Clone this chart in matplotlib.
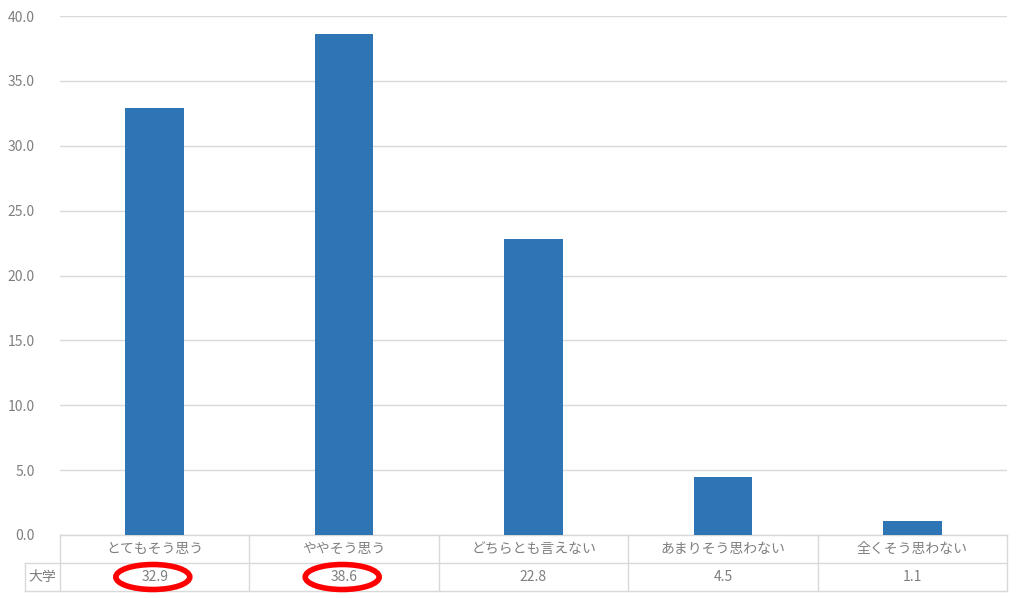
import matplotlib.pyplot as plt
from matplotlib.patches import Ellipse
from matplotlib.transforms import blended_transform_factory
import numpy as np

plt.rcParams['font.family'] = ['Noto Sans CJK JP', 'DejaVu Sans']

categories = ['とてもそう思う', 'ややそう思う', 'どちらとも言えない', 'あまりそう思わない', '全くそう思わない']
series_name = '大学'
values = [32.9, 38.6, 22.8, 4.5, 1.1]
highlighted = [0, 1]

bar_color = '#2e75b6'
grid_color = '#d9d9d9'
text_color = '#7f7f7f'

fig = plt.figure(figsize=(10.24, 5.98), dpi=100)
ax = fig.add_axes([60 / 1024, 1 - 535 / 598, 947 / 1024, 519 / 598])

x = np.arange(len(categories))
ax.bar(x, values, width=0.31, color=bar_color, zorder=3)

ax.set_xlim(-0.5, len(categories) - 0.5)
ax.set_ylim(0, 40)
ax.set_yticks(np.arange(0, 40.1, 5))
ax.set_yticklabels([f'{v:.1f}' for v in np.arange(0, 40.1, 5)])
ax.tick_params(axis='y', length=0, pad=18, labelsize=10, labelcolor=text_color)
ax.set_xticks([])
ax.grid(axis='y', color=grid_color, linewidth=1, zorder=0)
for s in ax.spines.values():
    s.set_visible(False)

# data table under the axis
tr = blended_transform_factory(ax.transData, ax.transAxes)
row_h = 28 / 519
left_x = -0.5 - 35 / 189.4
right_x = len(categories) - 0.5
line_kw = dict(color=grid_color, linewidth=1, transform=tr, clip_on=False)

ax.plot([-0.5, right_x], [0, 0], **line_kw)
ax.plot([left_x, right_x], [-row_h, -row_h], **line_kw)
ax.plot([left_x, right_x], [-2 * row_h, -2 * row_h], **line_kw)
ax.plot([left_x, left_x], [-row_h, -2 * row_h], **line_kw)
for b in np.arange(-0.5, len(categories), 1.0):
    ax.plot([b, b], [0, -2 * row_h], **line_kw)

for i, c in enumerate(categories):
    ax.text(i, -row_h / 2, c, transform=tr, ha='center', va='center',
            fontsize=10, color=text_color)
    ax.text(i, -1.5 * row_h, f'{values[i]:.1f}', transform=tr, ha='center',
            va='center', fontsize=10, color=text_color)
ax.text((left_x - 0.5) / 2, -1.5 * row_h, series_name, transform=tr,
        ha='center', va='center', fontsize=10, color=text_color)

for i in highlighted:
    ax.add_patch(Ellipse((i - 0.01, -1.5 * row_h), 74 / 189.4, 25 / 519,
                         transform=tr, fill=False, edgecolor='#ff0000',
                         linewidth=4, clip_on=False, zorder=5))

fig.savefig('out.png', dpi=100)
